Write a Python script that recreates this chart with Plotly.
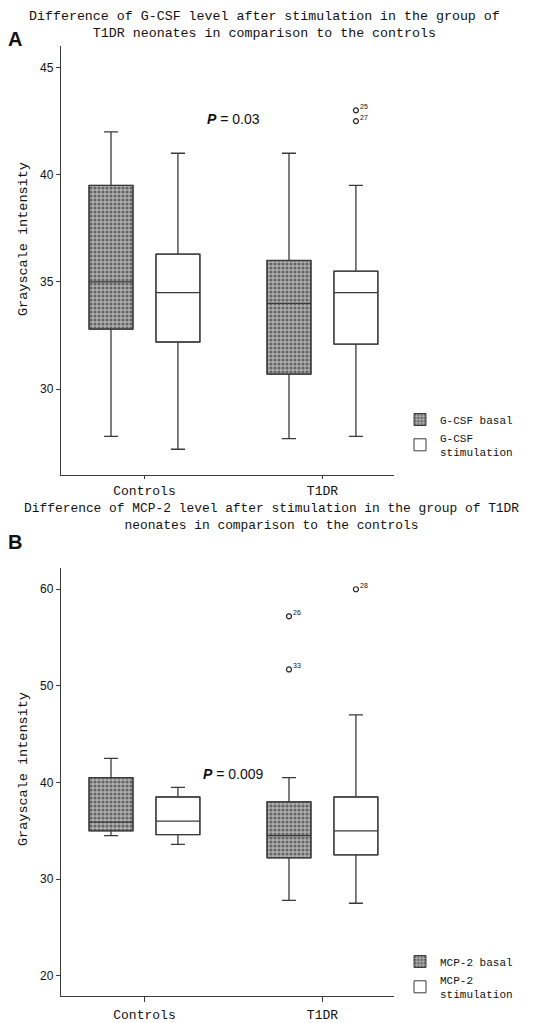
import plotly.graph_objects as go

# ---------------- data ----------------
groups = ["Controls", "T1DR"]
group_pos = [0, 1]

# Panel A: G-CSF
gcsf_basal_low = [27.8, 27.7]
gcsf_basal_q1 = [32.8, 30.7]
gcsf_basal_med = [35.0, 34.0]
gcsf_basal_q3 = [39.5, 36.0]
gcsf_basal_high = [42.0, 41.0]

gcsf_stim_low = [27.2, 27.8]
gcsf_stim_q1 = [32.2, 32.1]
gcsf_stim_med = [34.5, 34.5]
gcsf_stim_q3 = [36.3, 35.5]
gcsf_stim_high = [41.0, 39.5]

gcsf_stim_outliers = [43.0, 42.5]
gcsf_stim_outlier_ids = ["25", "27"]

# Panel B: MCP-2
mcp_basal_low = [34.5, 27.8]
mcp_basal_q1 = [35.0, 32.2]
mcp_basal_med = [35.9, 34.5]
mcp_basal_q3 = [40.5, 38.0]
mcp_basal_high = [42.5, 40.5]

mcp_stim_low = [33.6, 27.5]
mcp_stim_q1 = [34.6, 32.5]
mcp_stim_med = [36.0, 35.0]
mcp_stim_q3 = [38.5, 38.5]
mcp_stim_high = [39.5, 47.0]

mcp_basal_outliers = [57.2, 51.7]
mcp_basal_outlier_ids = ["26", "33"]
mcp_stim_outliers = [60.0]
mcp_stim_outlier_ids = ["28"]

# ---------------- layout constants ----------------
OFF = 0.188
BW = 0.247
LINE = "#3a3a3a"
MONO = "Liberation Mono, Courier New, monospace"
SANS = "Liberation Sans, Arial, sans-serif"

fig = go.Figure()


def add_panel(xa, ya, legend, basal, stim, names):
    b_low, b_q1, b_med, b_q3, b_high = basal
    s_low, s_q1, s_med, s_q3, s_high = stim
    xb = [g - OFF for g in group_pos]
    xs = [g + OFF for g in group_pos]
    fig.add_trace(go.Bar(
        x=xb, y=[q3 - q1 for q1, q3 in zip(b_q1, b_q3)], base=b_q1, width=BW,
        marker=dict(color="#b0b0b0", line=dict(color=LINE, width=1),
                    pattern=dict(shape=".", fgcolor="#1a1a1a", bgcolor="#b0b0b0",
                                 size=4, solidity=0.5)),
        name=names[0], xaxis=xa, yaxis=ya, legend=legend, showlegend=True,
        hoverinfo="skip"))
    fig.add_trace(go.Bar(
        x=xs, y=[q3 - q1 for q1, q3 in zip(s_q1, s_q3)], base=s_q1, width=BW,
        marker=dict(color="white", line=dict(color=LINE, width=1)),
        name=names[1], xaxis=xa, yaxis=ya, legend=legend, showlegend=True,
        hoverinfo="skip"))
    for xpos, low, q1, med, q3, high in [
        (xb, b_low, b_q1, b_med, b_q3, b_high),
        (xs, s_low, s_q1, s_med, s_q3, s_high),
    ]:
        fig.add_trace(go.Box(
            x=xpos, lowerfence=low, q1=q1, median=med, q3=q3, upperfence=high,
            width=BW, whiskerwidth=0.32, fillcolor="rgba(0,0,0,0)",
            line=dict(color=LINE, width=1.3), boxpoints=False,
            xaxis=xa, yaxis=ya, showlegend=False, hoverinfo="skip"))


add_panel("x", "y", "legend",
          (gcsf_basal_low, gcsf_basal_q1, gcsf_basal_med, gcsf_basal_q3, gcsf_basal_high),
          (gcsf_stim_low, gcsf_stim_q1, gcsf_stim_med, gcsf_stim_q3, gcsf_stim_high),
          ["G-CSF basal", "G-CSF<br>stimulation"])
add_panel("x2", "y2", "legend2",
          (mcp_basal_low, mcp_basal_q1, mcp_basal_med, mcp_basal_q3, mcp_basal_high),
          (mcp_stim_low, mcp_stim_q1, mcp_stim_med, mcp_stim_q3, mcp_stim_high),
          ["MCP-2 basal", "MCP-2<br>stimulation"])

outlier_sets = [
    ("x", "y", group_pos[1] + OFF, gcsf_stim_outliers, gcsf_stim_outlier_ids),
    ("x2", "y2", group_pos[1] - OFF, mcp_basal_outliers, mcp_basal_outlier_ids),
    ("x2", "y2", group_pos[1] + OFF, mcp_stim_outliers, mcp_stim_outlier_ids),
]
annotations = []
for xa, ya, xp, vals, ids in outlier_sets:
    fig.add_trace(go.Scatter(
        x=[xp] * len(vals), y=vals, mode="markers",
        marker=dict(symbol="circle-open", size=5, color="#222", line=dict(width=1.2)),
        xaxis=xa, yaxis=ya, showlegend=False, hoverinfo="skip"))
    for v, lab in zip(vals, ids):
        annotations.append(dict(x=xp, y=v, xref=xa, yref=ya, text=lab,
                                showarrow=False, xanchor="left", yanchor="bottom",
                                xshift=2, yshift=-2,
                                font=dict(family=SANS, size=7, color="#111")))

annotations.append(dict(x=0.5, y=42.6, xref="x", yref="y",
                        text="<b><i>P</i></b> = 0.03", showarrow=False,
                        font=dict(family=SANS, size=14, color="#111")))
annotations.append(dict(x=0.5, y=40.9, xref="x2", yref="y2",
                        text="<b><i>P</i></b> = 0.009", showarrow=False,
                        font=dict(family=SANS, size=14, color="#111")))

ML, MR, MT, MB = 53, 154, 38, 35
PX0, PW = ML, 540 - ML - MR
PB, PH = 1023 - MB, 1023 - MT - MB
OFFS = 7  # offset between positions


def px(p):
    return (p - OFFS - PX0) / PW


def py(p):
    return (PB - (p - OFFS)) / PH


annotations.append(dict(x=px(263), y=py(24), xref="paper", yref="paper",
                        text="Difference of G-CSF level after stimulation in the group of<br>T1DR neonates in comparison to the controls",
                        showarrow=False, xanchor="center", yanchor="middle",
                        font=dict(family=MONO, size=13.3, color="#111")))
annotations.append(dict(x=px(270), y=py(516), xref="paper", yref="paper",
                        text="Difference of MCP-2 level after stimulation in the group of T1DR<br>neonates in comparison to the controls",
                        showarrow=False, xanchor="center", yanchor="middle",
                        font=dict(family=MONO, size=12.9, color="#111")))
annotations.append(dict(x=px(14), y=py(38), xref="paper", yref="paper", text="<b>A</b>",
                        showarrow=False, xanchor="center", yanchor="middle",
                        font=dict(family=SANS, size=20, color="#111")))
annotations.append(dict(x=px(14), y=py(541), xref="paper", yref="paper", text="<b>B</b>",
                        showarrow=False, xanchor="center", yanchor="middle",
                        font=dict(family=SANS, size=20, color="#111")))
annotations.append(dict(x=px(22), y=py(238), xref="paper", yref="paper",
                        text="Grayscale intensity", textangle=-90, showarrow=False,
                        xanchor="center", yanchor="middle",
                        font=dict(family=MONO, size=13.5, color="#111")))
annotations.append(dict(x=px(22), y=py(768), xref="paper", yref="paper",
                        text="Grayscale intensity", textangle=-90, showarrow=False,
                        xanchor="center", yanchor="middle",
                        font=dict(family=MONO, size=13.5, color="#111")))

xcommon = dict(tickmode="array", tickvals=group_pos, ticktext=groups,
               range=[-0.469, 1.402], showline=True, linecolor=LINE, linewidth=1.3,
               ticks="outside", ticklen=5, tickcolor=LINE, showgrid=False, zeroline=False,
               automargin=False,
               tickfont=dict(family=MONO, size=13, color="#111"))
ycommon = dict(showline=True, linecolor=LINE, linewidth=1.3, ticks="outside", ticklen=4,
               tickcolor=LINE, showgrid=False, zeroline=False, automargin=False,
               tickfont=dict(family=SANS, size=12, color="#111"))

legend_common = dict(bgcolor="rgba(0,0,0,0)", font=dict(family=MONO, size=11, color="#111"),
                     itemwidth=30, tracegroupgap=4, xanchor="left", yanchor="top",
                     itemclick=False, itemdoubleclick=False)

fig.update_layout(
    width=540, height=1023,
    margin=dict(l=ML, r=MR, t=MT, b=MB, autoexpand=False),
    paper_bgcolor="white", plot_bgcolor="white",
    barmode="overlay",
    xaxis=dict(xcommon, anchor="y", domain=[0, 1], ticklen=3),
    yaxis=dict(ycommon, domain=[py(474), 1], range=[26, 46],
               tickvals=[30, 35, 40, 45]),
    xaxis2=dict(xcommon, anchor="y2", domain=[0, 1], ticklabelstandoff=1),
    yaxis2=dict(ycommon, domain=[0, py(567)], range=[17.9, 62.2],
                tickvals=[20, 30, 40, 50, 60]),
    legend=dict(legend_common, x=px(399), y=py(404)),
    legend2=dict(legend_common, x=px(399), y=py(946)),
    annotations=annotations,
    showlegend=True,
)

fig.write_html("out.html")
